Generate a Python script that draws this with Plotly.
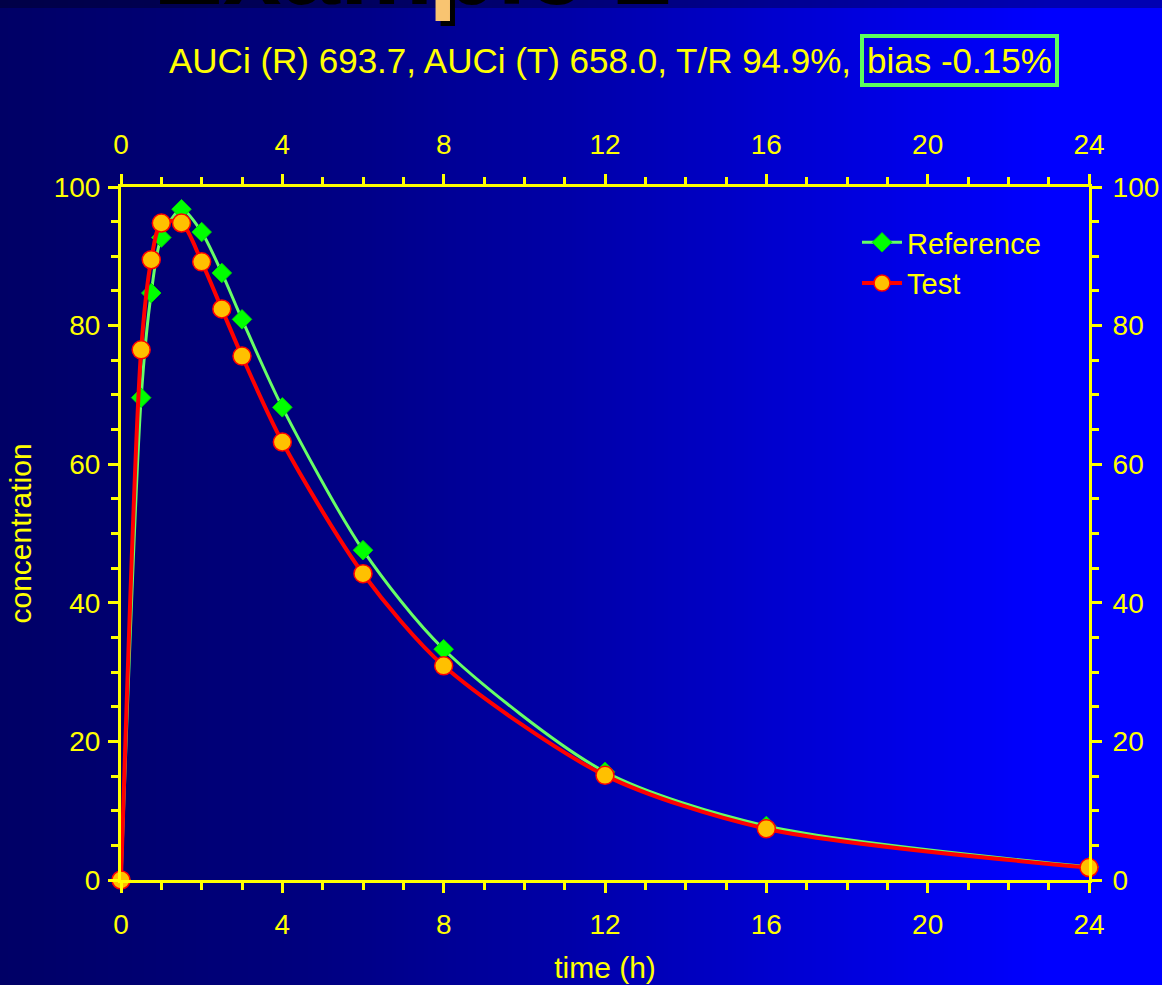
import plotly.graph_objects as go
import numpy as np

# ---- data ----
time_h = [0, 0.5, 0.75, 1, 1.5, 2, 2.5, 3, 4, 6, 8, 12, 16, 24]
reference_conc = [0, 69.6, 84.7, 92.7, 96.8, 93.5, 87.6, 80.9, 68.2, 47.6, 33.3, 15.6, 7.8, 1.9]
test_conc = [0, 76.5, 89.5, 94.8, 94.8, 89.2, 82.4, 75.6, 63.2, 44.2, 30.9, 15.1, 7.4, 1.8]
x_ticks = [0, 4, 8, 12, 16, 20, 24]
y_ticks = [0, 20, 40, 60, 80, 100]
title_main = "AUCi (R) 693.7, AUCi (T) 658.0, T/R 94.9%,"
title_bias = "bias -0.15%"
slide_title = "Example 2"

W, H = 1162, 985
L, R, T, B = 121, 73, 187, 105
PW, PH = W - L - R, H - T - B
FONT = "Liberation Sans, Arial, sans-serif"
YEL = "#FFFF00"


def px_x(p):
    return (p - L) / PW


def px_y(p):
    return (H - B - p) / PH


fig = go.Figure()

fig.add_trace(go.Scatter(
    x=time_h, y=reference_conc, name="Reference", mode="lines+markers",
    line=dict(color="#66FF66", width=3, shape="spline", smoothing=0.8),
    marker=dict(symbol="diamond", size=15, color="#00FF00", line=dict(color="#00DD00", width=1)),
    cliponaxis=False,
))
fig.add_trace(go.Scatter(
    x=time_h, y=test_conc, name="Test", mode="lines+markers",
    line=dict(color="#FF0000", width=4, shape="spline", smoothing=0.8),
    marker=dict(symbol="circle", size=18, color="#FFC000", line=dict(color="#FF0000", width=1.5)),
    cliponaxis=False,
))
# invisible trace to activate the mirrored top/right axes
fig.add_trace(go.Scatter(
    x=time_h, y=reference_conc, xaxis="x2", yaxis="y2", mode="markers",
    marker=dict(opacity=0), showlegend=False, hoverinfo="skip",
))

# background gradient (dark navy -> bright blue)
stops_x = [0.0, 0.25, 0.5, 0.75, 0.9, 1.0]
stops_b = [102, 125, 170, 225, 255, 255]
shapes = []
step = 4
for i in range(0, W, step):
    b = int(round(np.interp((i + step / 2) / W, stops_x, stops_b)))
    shapes.append(dict(
        type="rect", xref="paper", yref="paper", layer="below",
        x0=px_x(i), x1=px_x(i + step + 1), y0=px_y(H), y1=px_y(0),
        fillcolor=f"rgb(0,0,{b})", line=dict(width=0),
    ))
shapes.append(dict(
    type="rect", xref="paper", yref="paper", layer="below",
    x0=px_x(0), x1=px_x(W), y0=px_y(8), y1=px_y(0),
    fillcolor="rgba(0,0,0,0.3)", line=dict(width=0),
))

tickfont = dict(family=FONT, size=28, color=YEL)
common_x = dict(
    range=[0, 24], tickmode="array", tickvals=x_ticks, ticktext=[str(v) for v in x_ticks],
    showline=True, linecolor=YEL, linewidth=3, ticks="outside", ticklen=10,
    tickwidth=2.5, tickcolor=YEL, tickfont=tickfont, showgrid=False, zeroline=False,
    minor=dict(dtick=1, tick0=0, ticks="outside", ticklen=7, tickwidth=2.5, tickcolor=YEL, showgrid=False),
    fixedrange=True, automargin=False,
)
common_y = dict(
    range=[0, 100], tickmode="array", tickvals=y_ticks, ticktext=[str(v) for v in y_ticks],
    showline=True, linecolor=YEL, linewidth=3, ticks="outside", ticklen=10,
    tickwidth=2.5, tickcolor=YEL, tickfont=tickfont, showgrid=False, zeroline=False,
    minor=dict(dtick=5, tick0=0, ticks="outside", ticklen=7, tickwidth=2.5, tickcolor=YEL, showgrid=False),
    fixedrange=True, automargin=False,
)

fig.update_layout(
    width=W, height=H, autosize=False,
    margin=dict(l=L, r=R, t=T, b=B, pad=0, autoexpand=False),
    paper_bgcolor="rgb(0,0,102)", plot_bgcolor="rgba(0,0,0,0)",
    font=dict(family=FONT, color=YEL),
    showlegend=True,
    legend=dict(
        x=px_x(857), y=px_y(217), xanchor="left", yanchor="top",
        bgcolor="rgba(0,0,0,0)", borderwidth=0, itemwidth=40,
        font=dict(family=FONT, size=29, color=YEL),
    ),
    xaxis=dict(**common_x, side="bottom", ticklabelstandoff=7,
               title=dict(text="time (h)", font=dict(family=FONT, size=30, color=YEL), standoff=19)),
    xaxis2=dict(**common_x, side="top", overlaying="x", matches="x", ticklabelstandoff=9),
    yaxis=dict(**common_y, side="left", ticklabelstandoff=2,
               title=dict(text="concentration", font=dict(family=FONT, size=30, color=YEL), standoff=14)),
    yaxis2=dict(**common_y, side="right", overlaying="y", matches="y", ticklabelstandoff=5),
    shapes=shapes,
    annotations=[
        dict(text=slide_title, xref="paper", yref="paper", x=px_x(407), y=1,
             xanchor="center", yanchor="bottom", yshift=T - 23, showarrow=False,
             font=dict(family=FONT, size=105, color="#F8C471", weight="bold",
                       shadow="5px 5px 0px #000000")),
        dict(text=title_main, xref="paper", yref="paper", x=px_x(853), y=px_y(61),
             xanchor="right", yanchor="middle", showarrow=False,
             font=dict(family=FONT, size=35, color=YEL)),
        dict(text=title_bias, xref="paper", yref="paper", x=px_x(860), y=px_y(60),
             xanchor="left", yanchor="middle", showarrow=False,
             bordercolor="#5CFF5C", borderwidth=4, borderpad=3,
             font=dict(family=FONT, size=35, color=YEL)),
    ],
)

fig.write_html(
    "out.html",
    config={"displayModeBar": False},
    post_script="document.body.style.margin='0';document.body.style.overflow='hidden';",
)
